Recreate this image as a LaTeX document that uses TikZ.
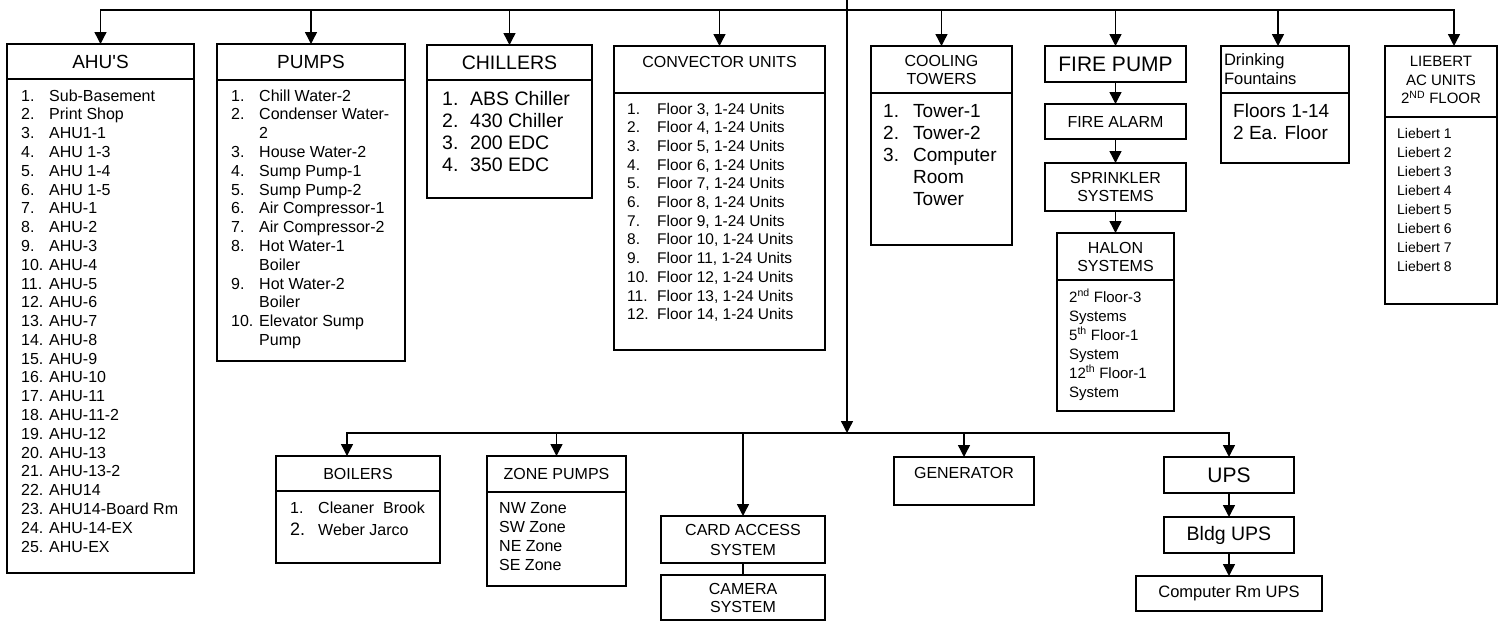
\documentclass[tikz,border=0pt]{standalone}
\usepackage{fontspec}
\setmainfont{Liberation Sans}
\usetikzlibrary{arrows.meta}
\newcommand{\fsz}[2]{\fontsize{#1}{#2}\selectfont}
\newcommand{\numlist}[2]{\begin{tabular}[t]{@{}p{#1}@{}l@{}}#2\end{tabular}}
\newcommand{\plainlist}[1]{\begin{tabular}[t]{@{}l@{}}#1\end{tabular}}
\tikzset{
  box/.style={draw, line width=1.4pt, inner sep=0pt, outer sep=0pt, anchor=north west, align=center},
  items/.style={anchor=base west, inner sep=0pt},
  arr/.style={line width=1.4pt, -{Triangle[width=12pt,length=12pt]}},
  link/.style={line width=1.4pt}
}
\begin{document}
\begin{tikzpicture}[x=1pt, y=-1pt]
        \useasboundingbox[fill=white] (0,0) rectangle (1500,621);

        % AHU'S
        \node[box, minimum width=187pt, minimum height=35pt, font=\fsz{19}{22}] (ahuT) at (7,44) {AHU\textquotesingle S};
        \node[box, minimum width=187pt, minimum height=494pt] (ahuB) at (7,79) {};
        \node[items, font=\fsz{16}{18.8}] (ahuL) at (21,101) {\numlist{28pt}{
            1. & Sub-Basement\\ 2. & Print Shop\\ 3. & AHU1-1\\ 4. & AHU 1-3\\ 5. & AHU 1-4\\
            6. & AHU 1-5\\ 7. & AHU-1\\ 8. & AHU-2\\ 9. & AHU-3\\ 10. & AHU-4\\
            11. & AHU-5\\ 12. & AHU-6\\ 13. & AHU-7\\ 14. & AHU-8\\ 15. & AHU-9\\
            16. & AHU-10\\ 17. & AHU-11\\ 18. & AHU-11-2\\ 19. & AHU-12\\ 20. & AHU-13\\
            21. & AHU-13-2\\ 22. & AHU14\\ 23. & AHU14-Board Rm\\ 24. & AHU-14-EX\\ 25. & AHU-EX}};

        % PUMPS
        \node[box, minimum width=188pt, minimum height=36pt, font=\fsz{19}{22}] (pumpT) at (217,44) {PUMPS};
        \node[box, minimum width=188pt, minimum height=281pt] (pumpB) at (217,80) {};
        \node[items, font=\fsz{16}{18.8}] (pumpL) at (231,101) {\numlist{28pt}{
            1. & Chill Water-2\\ 2. & Condenser Water-\\ & 2\\ 3. & House Water-2\\
            4. & Sump Pump-1\\ 5. & Sump Pump-2\\ 6. & Air Compressor-1\\ 7. & Air Compressor-2\\
            8. & Hot Water-1\\ & Boiler\\ 9. & Hot Water-2\\ & Boiler\\ 10. & Elevator Sump\\ & Pump}};

        % CHILLERS
        \node[box, minimum width=165pt, minimum height=35pt, font=\fsz{19.5}{22}] (chillT) at (427,45) {CHILLERS};
        \node[box, minimum width=165pt, minimum height=118pt] (chillB) at (427,80) {};
        \node[items, font=\fsz{19.5}{22}] (chillL) at (442,105) {\numlist{28pt}{
            1. & ABS Chiller\\ 2. & 430 Chiller\\ 3. & 200 EDC\\ 4. & 350 EDC}};

        % CONVECTOR UNITS
        \node[box, minimum width=211pt, minimum height=47pt, font=\fsz{16}{18}, text depth=14.5pt] (convT) at (614,46) {CONVECTOR UNITS};
        \node[box, minimum width=211pt, minimum height=257pt] (convB) at (614,93) {};
        \node[items, font=\fsz{15.5}{18.7}] (convL) at (627,114) {\numlist{30pt}{
            1. & Floor 3, 1-24 Units\\ 2. & Floor 4, 1-24 Units\\ 3. & Floor 5, 1-24 Units\\
            4. & Floor 6, 1-24 Units\\ 5. & Floor 7, 1-24 Units\\ 6. & Floor 8, 1-24 Units\\
            7. & Floor 9, 1-24 Units\\ 8. & Floor 10, 1-24 Units\\ 9. & Floor 11, 1-24 Units\\
            10. & Floor 12, 1-24 Units\\ 11. & Floor 13, 1-24 Units\\ 12. & Floor 14, 1-24 Units}};

        % COOLING TOWERS
        \node[box, minimum width=141pt, minimum height=47pt, font=\fsz{16}{18}] (coolT) at (871,46) {COOLING\\TOWERS};
        \node[box, minimum width=141pt, minimum height=152pt] (coolB) at (871,93) {};
        \node[items, font=\fsz{19}{22}] (coolL) at (883,117) {\numlist{30pt}{
            1. & Tower-1\\ 2. & Tower-2\\ 3. & Computer\\ & Room\\ & Tower}};

        % Fire chain
        \node[box, minimum width=141pt, minimum height=36pt, font=\fsz{21}{24}] (fpump) at (1045,46) {FIRE PUMP};
        \node[box, minimum width=141pt, minimum height=35pt, font=\fsz{16}{18}] (falarm) at (1045,104) {FIRE ALARM};
        \node[box, minimum width=141pt, minimum height=48pt, font=\fsz{16}{18}] (sprink) at (1045,163) {SPRINKLER\\SYSTEMS};
        \node[box, minimum width=117pt, minimum height=47pt, font=\fsz{16}{18}] (halonT) at (1057,233) {HALON\\SYSTEMS};
        \node[box, minimum width=117pt, minimum height=131pt] (halonB) at (1057,280) {};
        \node[items, font=\fsz{15}{19}] (halonL) at (1069,302) {\plainlist{
            2\textsuperscript{nd} Floor-3\\ Systems\\ 5\textsuperscript{th} Floor-1\\ System\\
            12\textsuperscript{th} Floor-1\\ System}};

        % Drinking Fountains
        \node[box, minimum width=128pt, minimum height=47pt, font=\fsz{16.5}{19}, align=left, text width=122pt] (drinkT) at (1221,46) {Drinking\\Fountains};
        \node[box, minimum width=128pt, minimum height=70pt] (drinkB) at (1221,93) {};
        \node[items, font=\fsz{19}{22}] (drinkL) at (1233,117) {\plainlist{Floors 1-14\\ 2 Ea. Floor}};

        % LIEBERT
        \node[box, minimum width=112pt, minimum height=71pt, font=\fsz{15}{18.5}, text depth=3pt] (liebT) at (1385,46) {LIEBERT\\AC UNITS\\2\textsuperscript{ND} FLOOR};
        \node[box, minimum width=112pt, minimum height=187pt] (liebB) at (1385,117) {};
        \node[items, font=\fsz{14}{19}] (liebL) at (1397,138) {\plainlist{
            Liebert 1\\ Liebert 2\\ Liebert 3\\ Liebert 4\\ Liebert 5\\ Liebert 6\\ Liebert 7\\ Liebert 8}};

        % BOILERS
        \node[box, minimum width=164pt, minimum height=35pt, font=\fsz{16}{18}] (boilT) at (276,456) {BOILERS};
        \node[box, minimum width=164pt, minimum height=72pt] (boilB) at (276,491) {};
        \node[items, font=\fsz{16}{22}] (boilL) at (290,513) {\numlist{28pt}{
            1. & Cleaner\ \ Brook\\ {\fsz{18}{22}2.} & Weber Jarco}};

        % ZONE PUMPS
        \node[box, minimum width=139pt, minimum height=36pt, font=\fsz{16}{18}] (zoneT) at (487,456) {ZONE PUMPS};
        \node[box, minimum width=139pt, minimum height=94pt] (zoneB) at (487,492) {};
        \node[items, font=\fsz{16}{19}] (zoneL) at (499,513) {\plainlist{NW Zone\\ SW Zone\\ NE Zone\\ SE Zone}};

        % Card access and camera
        \node[box, minimum width=164pt, minimum height=47pt, font=\fsz{16}{20}] (card) at (661,516) {CARD ACCESS\\SYSTEM};
        \node[box, minimum width=164pt, minimum height=45pt, font=\fsz{16}{18}] (cam) at (661,575) {CAMERA\\SYSTEM};

        % GENERATOR
        \node[box, minimum width=140pt, minimum height=48pt, font=\fsz{16}{18}, text depth=15.5pt] (gen) at (894,457) {GENERATOR};

        % UPS chain
        \node[box, minimum width=130pt, minimum height=36pt, font=\fsz{21}{24}] (ups) at (1164,457) {UPS};
        \node[box, minimum width=130pt, minimum height=36pt, font=\fsz{19.5}{22}] (bldg) at (1164,517) {Bldg UPS};
        \node[box, minimum width=186pt, minimum height=35pt, font=\fsz{16.5}{19}] (comp) at (1136,576) {Computer Rm UPS};

        % Buses and arrows
        \coordinate (root) at (847,0);
        \coordinate (bus) at (847,10);
        \coordinate (hub) at (847,433);
        \draw[arr] (root) -- (hub);
        \foreach \b in {ahuT, pumpT, chillT, convT, coolT, fpump}
            \draw[arr] (bus) -| (\b.north);
        \draw[arr] (bus) -| ([xshift=-7pt]drinkT.north);
        \draw[arr] (bus) -| ([xshift=13pt]liebT.north);
        \draw[arr] (hub) -| ([xshift=-11pt]boilT.north);
        \foreach \b in {zoneT, card, gen, ups}
            \draw[arr] (hub) -| (\b.north);
        \draw[arr] (fpump) -- (falarm);
        \draw[arr] (falarm) -- (sprink);
        \draw[arr] (sprink) -- (halonT);
        \draw[arr] (ups) -- (bldg);
        \draw[arr] (bldg) -- (comp);
        \draw[link] (card) -- (cam);
    \end{tikzpicture}
\end{document}
